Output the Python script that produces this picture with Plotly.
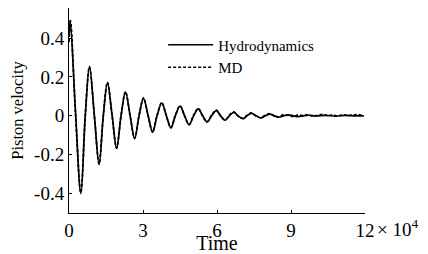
import plotly.graph_objects as go

# Time in units of 10^4
hydro_t = [0.0, 0.05, 0.26, 0.48, 0.66, 0.83, 1.03, 1.22, 1.39, 1.56, 1.75, 1.93, 2.11, 2.29,
           2.48, 2.66, 2.84, 3.02, 3.21, 3.39, 3.57, 3.76, 3.95, 4.13, 4.31, 4.50, 4.69, 4.87,
           5.05, 5.24, 5.42, 5.60, 5.78, 5.97, 6.15, 6.33, 6.50, 6.68, 6.86, 7.05, 7.22, 7.40,
           7.59, 7.78, 7.96, 8.15, 8.33, 8.50, 8.70, 8.90, 9.10, 9.30, 9.50, 9.70, 10.0, 10.4,
           10.8, 11.2, 11.6, 11.95]
hydro_v = [0.42, 0.49, 0.03, -0.40, 0.0, 0.255, 0.0, -0.25, 0.0, 0.17, 0.0, -0.168, 0.0, 0.122,
           0.0, -0.117, 0.0, 0.09, 0.0, -0.084, 0.0, 0.066, 0.0, -0.062, 0.0, 0.05, 0.0, -0.046,
           0.0, 0.036, 0.0, -0.032, 0.0, 0.027, 0.0, -0.023, 0.0, 0.018, 0.0, -0.015, 0.0, 0.013,
           0.0, -0.011, 0.0, 0.009, 0.0, -0.007, 0.0, 0.005, 0.0, -0.004, 0.0, 0.003, 0.0, 0.002,
           -0.001, 0.002, 0.0, 0.0]

md_t = [0.0, 0.03, 0.06, 0.26, 0.48, 0.66, 0.83, 1.03, 1.22, 1.39, 1.56, 1.75, 1.93, 2.11, 2.29,
        2.48, 2.66, 2.84, 3.02, 3.21, 3.39, 3.57, 3.76, 3.95, 4.13, 4.31, 4.50, 4.69, 4.87,
        5.05, 5.24, 5.42, 5.60, 5.78, 5.97, 6.15, 6.33, 6.50, 6.68, 6.86, 7.05, 7.22, 7.40,
        7.59, 7.78, 7.96, 8.15, 8.33, 8.50, 8.70, 8.90, 9.10, 9.30, 9.50, 9.70, 9.90, 10.1,
        10.3, 10.5, 10.7, 10.9, 11.1, 11.3, 11.5, 11.7, 11.95]
md_v = [0.38, 0.47, 0.49, 0.02, -0.395, 0.005, 0.252, -0.004, -0.248, 0.003, 0.172, -0.002,
        -0.165, 0.002, 0.124, -0.003, -0.115, 0.002, 0.092, -0.002, -0.082, 0.003, 0.068, -0.002,
        -0.06, 0.002, 0.052, -0.003, -0.044, 0.003, 0.038, -0.002, -0.03, 0.003, 0.029, -0.003,
        -0.021, 0.004, 0.02, -0.002, -0.013, 0.003, 0.015, -0.003, -0.009, 0.004, 0.011, -0.002,
        -0.005, 0.006, 0.002, -0.004, 0.005, 0.001, 0.006, -0.002, 0.004, 0.008, 0.001, 0.005,
        -0.001, 0.006, 0.002, 0.004, 0.007, 0.0]

x_tickvals = [0, 3, 6, 9, 12]
x_ticktext = ["0", "3", "6", "9", "12"]
y_tickvals = [-0.4, -0.2, 0, 0.2, 0.4]
y_ticktext = ["-0.4", "-0.2", "0", "0.2", "0.4"]

font = "Liberation Serif"

fig = go.Figure()
fig.add_trace(go.Scatter(x=hydro_t, y=hydro_v, mode="lines", name="Hydrodynamics",
                         line=dict(color="black", width=1.7, shape="spline", smoothing=1.0)))
fig.add_trace(go.Scatter(x=md_t, y=md_v, mode="lines", name="MD",
                         line=dict(color="black", width=1.7, dash="3px,2px", shape="spline", smoothing=1.0)))

# the page body adds an 8px margin, so the figure is 420x246 and sits at (8, 8)
fig.update_layout(
    width=420, height=246,
    margin=dict(l=61, r=63, t=0, b=41, autoexpand=False),
    paper_bgcolor="white", plot_bgcolor="white",
    font=dict(family=font, size=18, color="black"),
    showlegend=True,
    legend=dict(x=0.318, y=0.90, xanchor="left", yanchor="top", bgcolor="rgba(0,0,0,0)",
                itemwidth=45,
                font=dict(family=font, size=15, color="black"), tracegroupgap=0),
    xaxis=dict(range=[0, 12], tickvals=x_tickvals, ticktext=x_ticktext, ticks="inside",
               ticklen=3, tickcolor="black", showline=True, linecolor="black", linewidth=1,
               showgrid=False, zeroline=False, tickfont=dict(family=font, size=19, color="black"),
               automargin=False,
               title=dict(text="Time", font=dict(family=font, size=20))),
    yaxis=dict(range=[-0.5, 0.555], tickvals=y_tickvals, ticktext=y_ticktext, ticks="inside",
               ticklen=3, tickcolor="black", showline=True, linecolor="black", linewidth=1,
               showgrid=False, zeroline=False, tickfont=dict(family=font, size=19, color="black"),
               automargin=False,
               title=dict(text="Piston velocity", font=dict(family=font, size=16.5))),
)
fig.add_annotation(x=12, y=0, xref="x", yref="paper", text="× 10<sup>4</sup>",
                   showarrow=False, xanchor="left", yanchor="top", xshift=10, yshift=-1,
                   font=dict(family=font, size=19, color="black"))

fig.write_html("out.html")
